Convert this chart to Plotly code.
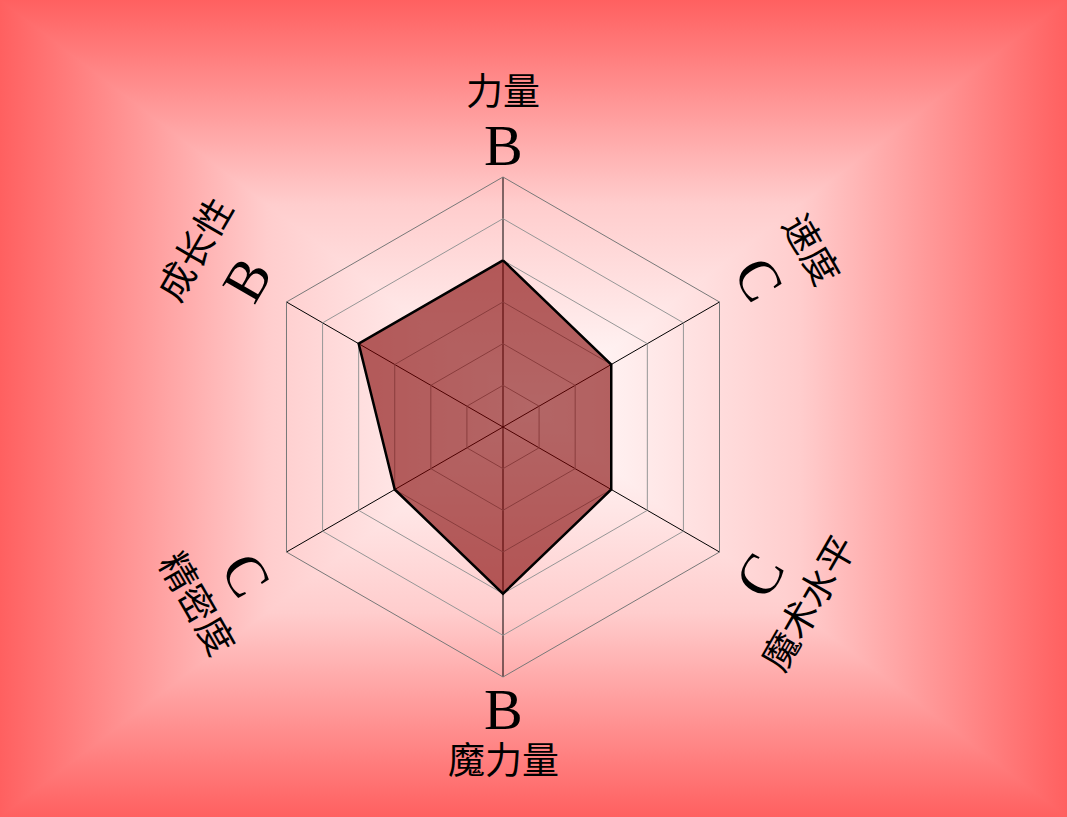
import base64
import math
import plotly.graph_objects as go

# ---- data ----
categories = ["力量", "速度", "魔术水平", "魔力量", "精密度", "成长性"]
grades = ["B", "C", "C", "B", "C", "B"]
grade_scale = {"E": 1, "D": 2, "C": 3, "B": 4, "A": 5, "S": 6}
values = [grade_scale[g] for g in grades]
ring_levels = [1, 2, 3, 4, 5, 6]

W, H = 1067, 817
CX, CY, R = 503, 427, 250  # polar center / radius in px

# ---- background (box gradient) ----
gx, gy = W / 2, H / 2
stops = """
<stop offset="0" stop-color="rgb(255,96,96)"/>
<stop offset="0.25" stop-color="rgb(255,150,150)"/>
<stop offset="0.5" stop-color="rgb(255,205,205)"/>
<stop offset="1" stop-color="rgb(255,255,255)"/>
"""
svg = f"""<svg xmlns="http://www.w3.org/2000/svg" width="{W}" height="{H}" viewBox="0 0 {W} {H}" preserveAspectRatio="none" shape-rendering="crispEdges">
<defs>
<linearGradient id="gt" gradientUnits="userSpaceOnUse" x1="0" y1="0" x2="0" y2="{gy}">{stops}</linearGradient>
<linearGradient id="gb" gradientUnits="userSpaceOnUse" x1="0" y1="{H}" x2="0" y2="{gy}">{stops}</linearGradient>
<linearGradient id="gl" gradientUnits="userSpaceOnUse" x1="0" y1="0" x2="{gx}" y2="0">{stops}</linearGradient>
<linearGradient id="gr" gradientUnits="userSpaceOnUse" x1="{W}" y1="0" x2="{gx}" y2="0">{stops}</linearGradient>
</defs>
<rect x="0" y="0" width="{W}" height="{H}" fill="url(#gt)"/>
<polygon points="0,{H} {W},{H} {gx},{gy}" fill="url(#gb)"/>
<polygon points="0,-1 0,{H + 1} {gx},{gy}" fill="url(#gl)"/>
<polygon points="{W},-1 {W},{H + 1} {gx},{gy}" fill="url(#gr)"/>
</svg>"""
bg_src = "data:image/svg+xml;base64," + base64.b64encode(svg.encode()).decode()

fig = go.Figure()
fig.add_trace(go.Scatterpolar(
    r=values + values[:1],
    theta=categories + categories[:1],
    mode="lines",
    fill="toself",
    fillcolor="rgba(128,0,0,0.6)",
    line=dict(color="black", width=2.5),
    hoverinfo="skip",
))

# ---- labels around the hexagon ----
serif = "Liberation Serif, Noto Sans CJK SC, serif"
annotations = []
n = len(categories)
for i, (cat, g) in enumerate(zip(categories, grades)):
    ang = 360 * i / n
    rad = math.radians(ang)
    upper = (ang % 360) < 90 or (ang % 360) > 270
    tangle = ang if upper else ang - 180
    if ang % 180 == 0:
        r_letter, r_name = 282, 334
    else:
        r_letter, r_name = 296, 354
    for text, rr, size in [(g, r_letter, 58), (cat, r_name, 37)]:
        px = CX + rr * math.sin(rad)
        py = CY - rr * math.cos(rad)
        annotations.append(dict(
            x=px / W, y=1 - py / H, xref="paper", yref="paper",
            text=text, showarrow=False, textangle=tangle,
            xanchor="center", yanchor="middle",
            font=dict(family=serif, size=size, color="black"),
        ))

fig.update_layout(
    width=W, height=H,
    margin=dict(l=0, r=0, t=0, b=0),
    paper_bgcolor="white",
    showlegend=False,
    images=[dict(source=bg_src, xref="paper", yref="paper", x=0, y=1,
                 sizex=1, sizey=1, xanchor="left", yanchor="top",
                 sizing="stretch", layer="below")],
    polar=dict(
        domain=dict(x=[(CX - R) / W, (CX + R) / W],
                    y=[1 - (CY + R) / H, 1 - (CY - R) / H]),
        bgcolor="rgba(0,0,0,0)",
        gridshape="linear",
        radialaxis=dict(range=[0, 6], tickvals=ring_levels, showticklabels=False,
                        ticks="", showline=False, gridcolor="rgb(150,150,150)",
                        gridwidth=1),
        angularaxis=dict(direction="clockwise", rotation=90, showticklabels=False,
                         ticks="", gridcolor="black", gridwidth=1,
                         showline=True, linecolor="rgb(120,120,120)", linewidth=1),
    ),
    annotations=annotations,
)

fig.write_html(
    "out.html",
    config={"displayModeBar": False},
    post_script="document.body.style.margin='0';document.body.style.overflow='hidden';",
)
